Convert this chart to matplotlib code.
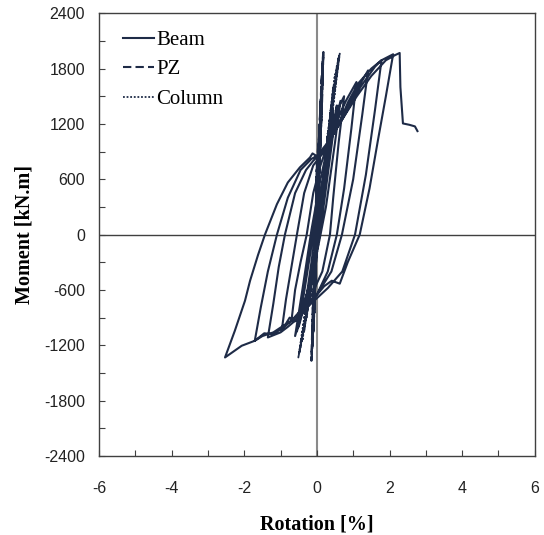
#!/usr/bin/env python
"""
Moment - rotation hysteresis of beam, panel zone and column.
"""

import matplotlib
matplotlib.use('Agg')
import matplotlib.pyplot as plt
from matplotlib.ticker import MultipleLocator

plt.rcParams['axes.unicode_minus'] = False

beam_rot = [0.0, 0.2, 0.35, 0.2, 0.0, -0.2, -0.35, -0.15, 0.05,
            0.3, 0.45, 0.35, 0.1, -0.2, -0.5, -0.3, -0.1,
            0.3, 0.55, 0.4, 0.15, -0.15, -0.55, -0.35, -0.1,
            0.3, 0.65, 0.5, 0.25, -0.1, -0.6, -0.4, -0.15,
            0.1, 0.35, 0.6, 0.75, 0.6, 0.45, 0.36, 0.15, -0.2, -0.5, -0.7,
            -0.6, -0.45, -0.28, -0.1, 0.1,
            0.4, 0.8, 1.09, 0.95, 0.75, 0.55, 0.3, 0.0, -0.4, -0.6, -0.75, -0.97,
            -0.85, -0.7, -0.55, -0.35, -0.1, 0.2,
            0.6, 1.0, 1.41, 1.25, 1.0, 0.69, 0.4, 0.0, -0.5, -0.8, -1.0, -1.35,
            -1.2, -1.05, -0.88, -0.6, -0.3, -0.1, 0.2,
            0.7, 1.2, 1.6, 1.78, 1.6, 1.35, 1.05, 0.7, 0.3, -0.3, -0.9, -1.2, -1.45, -1.71,
            -1.55, -1.35, -1.1, -0.8, -0.45, -0.15, 0.2,
            0.6, 0.86, 1.14, 1.5, 1.78, 2.1, 1.9, 1.68, 1.45, 1.18, 0.85, 0.63, 0.41,
            0.2, 0.03, -0.2, -0.7, -0.97, -1.2, -1.5, -1.71, -2.07, -2.53,
            -2.26, -1.98, -1.84, -1.62, -1.43, -1.1, -0.8, -0.47, -0.19, -0.12,
            0.0, 0.3, 0.7, 1.1, 1.5, 1.9, 2.15, 2.28,
            2.3, 2.37, 2.55, 2.7, 2.77]
beam_mom = [0, 600, 1000, 500, -100, -600, -850, -300, 300,
            900, 1350, 900, 150, -550, -1000, -500, 0,
            800, 1400, 950, 200, -450, -1050, -550, 100,
            850, 1450, 1000, 300, -400, -1100, -600, 50,
            600, 1050, 1380, 1500, 1000, 400, 0, -400, -700, -850, -934,
            -600, -300, 0, 450, 750,
            1100, 1450, 1654, 1150, 500, 0, -400, -650, -860, -940, -900, -1043,
            -700, -350, 0, 450, 750, 900,
            1200, 1500, 1780, 1300, 600, 0, -400, -650, -900, -1000, -1060, -1115,
            -750, -350, 0, 450, 700, 800, 920,
            1250, 1600, 1820, 1890, 1350, 650, 0, -400, -580, -800, -1000, -1080, -1070, -1151,
            -800, -400, 0, 400, 700, 820, 900,
            1200, 1437, 1640, 1800, 1890, 1955, 1500, 1020, 500, 0, -300, -532, -500,
            -560, -640, -720, -934, -1000, -1060, -1100, -1151, -1205, -1332,
            -1043, -717, -500, -220, 0, 330, 565, 728, 836, 880,
            850, 1000, 1250, 1500, 1720, 1890, 1945, 1969,
            1600, 1205, 1190, 1173, 1122]

# Panel zone
pz_rot = [0.0, 0.03, 0.06, 0.03, 0.0, -0.04, -0.07, -0.04, -0.01,
          0.02, 0.06, 0.1, 0.06, 0.02, -0.03, -0.08, -0.05, -0.02,
          0.0, 0.04, 0.12, 0.09, 0.04, -0.02, -0.1, -0.07, -0.03,
          0.0, 0.05, 0.14, 0.1, 0.05, -0.03, -0.11, -0.08, -0.04,
          0.0, 0.06, 0.16, 0.12, 0.06, -0.04, -0.13, -0.1, -0.05,
          0.0, 0.07, 0.17, 0.13, 0.07, -0.05, -0.14, -0.11, -0.06,
          0.0, 0.08, 0.18, 0.14, 0.08, -0.06, -0.15, -0.12, -0.06,
          0.0, 0.08, 0.175, 0.13, 0.06, -0.05, -0.145]
pz_mom = [0, 500, 900, 500, 0, -500, -850, -450, 0,
          450, 1000, 1400, 850, 250, -400, -900, -500, -50,
          400, 900, 1600, 1100, 400, -300, -1050, -600, -100,
          500, 950, 1750, 1200, 500, -350, -1150, -650, -150,
          600, 1000, 1880, 1300, 600, -400, -1250, -750, -200,
          700, 1050, 1950, 1350, 700, -450, -1300, -800, -250,
          750, 1100, 1980, 1400, 800, -500, -1368, -850, -250,
          800, 1150, 1970, 1350, 600, -450, -1340]

# Column
col_rot = [0.0, 0.15, 0.3, 0.2, 0.02, -0.1, -0.2, -0.1, 0.0,
           0.2, 0.38, 0.25, 0.04, -0.15, -0.28, -0.15, 0.0,
           0.22, 0.45, 0.3, 0.05, -0.18, -0.35, -0.2, 0.0,
           0.25, 0.5, 0.33, 0.06, -0.2, -0.4, -0.22, 0.01,
           0.28, 0.55, 0.36, 0.07, -0.22, -0.45, -0.25, 0.01,
           0.3, 0.59, 0.4, 0.08, -0.24, -0.48, -0.27, 0.02,
           0.32, 0.63, 0.42, 0.09, -0.26, -0.51, -0.28, 0.02,
           0.31, 0.61, 0.41, 0.08, -0.25, -0.5]
col_mom = [0, 500, 1100, 650, 0, -350, -700, -350, 0,
           700, 1350, 850, 0, -500, -900, -450, 0,
           800, 1600, 1000, 0, -600, -1050, -550, 0,
           900, 1740, 1100, 0, -650, -1150, -600, 0,
           1000, 1830, 1150, 0, -700, -1220, -650, 0,
           1050, 1920, 1250, 0, -750, -1280, -700, 0,
           1100, 1962, 1300, 0, -800, -1332, -720, 0,
           1080, 1940, 1280, 0, -780, -1300]

line_color = '#1e2b47'
serif = ['Liberation Serif', 'DejaVu Serif']

fig = plt.figure(figsize=(5.44, 5.35), dpi=100)
ax = fig.add_axes([0.182, 0.1477, 0.801, 0.8276])

ax.axhline(0, color='#404040', lw=1.0, zorder=1)
ax.axvline(0, color='#8a8a8a', lw=1.5, zorder=1)

ax.plot(beam_rot, beam_mom, '-', color=line_color, lw=1.5, label='Beam', zorder=3)
ax.plot(pz_rot, pz_mom, '--', color=line_color, lw=1.5, dashes=(4, 2), label='PZ', zorder=3)
ax.plot(col_rot, col_mom, color=line_color, lw=1.3, ls=(0, (1, 1)), label='Column', zorder=3)

ax.set_xlim(-6, 6)
ax.set_ylim(-2400, 2400)
ax.xaxis.set_major_locator(MultipleLocator(2))
ax.xaxis.set_minor_locator(MultipleLocator(1))
ax.yaxis.set_major_locator(MultipleLocator(600))
ax.yaxis.set_minor_locator(MultipleLocator(300))
ax.tick_params(which='both', direction='in', length=4, width=0.8, color='#404040',
               top=False, right=False)
ax.tick_params(axis='x', which='major', pad=18)
ax.tick_params(axis='y', which='major', pad=10)
for lab in ax.get_xticklabels() + ax.get_yticklabels():
    lab.set_fontfamily('Liberation Sans')
    lab.set_fontsize(11.5)
    lab.set_color('#222222')

for sp in ax.spines.values():
    sp.set_color('#404040')
    sp.set_linewidth(1.0)

ax.set_xlabel('Rotation [%]', fontsize=14.5, fontweight='bold', family=serif)
ax.set_ylabel('Moment [kN.m]', fontsize=14.5, fontweight='bold', family=serif)
ax.xaxis.set_label_coords(0.5, -0.132)
ax.yaxis.set_label_coords(-0.147, 0.5)

ax.legend(loc='upper left', bbox_to_anchor=(0.055, 0.961), frameon=False,
          prop={'family': serif, 'size': 15}, handlelength=1.5,
          handletextpad=0.1, labelspacing=0.47, borderpad=0, borderaxespad=0)

fig.savefig('out.png', dpi=100)
